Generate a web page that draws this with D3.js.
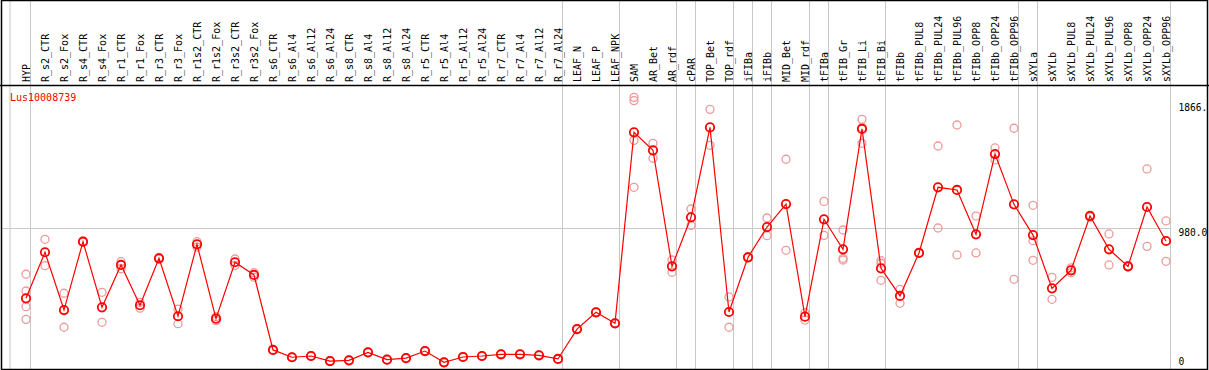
<!DOCTYPE html>
<meta charset="utf-8">
<style>
  body { margin: 0; background: #fff; }
  text { font-family: "DejaVu Sans Mono", monospace; font-size: 10px; }
</style>
<body>
<div id="chart"></div>
<script src="https://cdn.jsdelivr.net/npm/d3@7"></script>
<script>

// sample names (one column each)
var samples = ["HYP","R_s2_CTR","R_s2_Fox","R_s4_CTR","R_s4_Fox","R_r1_CTR","R_r1_Fox","R_r3_CTR","R_r3_Fox",
  "R_r1s2_CTR","R_r1s2_Fox","R_r3s2_CTR","R_r3s2_Fox","R_s6_CTR","R_s6_Al4","R_s6_Al12","R_s6_Al24",
  "R_s8_CTR","R_s8_Al4","R_s8_Al12","R_s8_Al24","R_r5_CTR","R_r5_Al4","R_r5_Al12","R_r5_Al24",
  "R_r7_CTR","R_r7_Al4","R_r7_Al12","R_r7_Al24","LEAF_N","LEAF_P","LEAF_NPK","SAM","AR_Bet","AR_rdf",
  "cPAR","TOP_Bet","TOP_rdf","iFIBa","iFIBb","MID_Bet","MID_rdf","tFIBa","tFIB_Gr","tFIB_Li","tFIB_Bi",
  "tFIBb","tFIBb_PUL8","tFIBb_PUL24","tFIBb_PUL96","tFIBb_OPP8","tFIBb_OPP24","tFIBb_OPP96",
  "sXYLa","sXYLb","sXYLb_PUL8","sXYLb_PUL24","sXYLb_PUL96","sXYLb_OPP8","sXYLb_OPP24","sXYLb_OPP96"]

// mean expression per sample
var means = [480,807,397,882,416,717,431,764,353,863,336,736,646,114,62,71,35,40,97,45,56,106,26,64,71,83,83,76,50,
  262,381,303,1658,1530,707,1055,1693,383,771,986,1149,350,1041,828,1682,693,497,802,1268,1249,934,1504,1147,
  929,551,679,1064,828,707,1128,887]

// replicate values per sample
var reps = [[651,532,421,331],[899,712],[516,275],[885,879],[523,310],[740,690],[452,410],[770,758],[404,300],
  [882,844],[350,322],[759,713],[662,630],[117,111],[65,59],[74,68],[38,32],[43,37],[100,94],[48,42],[59,53],
  [109,103],[29,23],[67,61],[74,68],[86,80],[86,80],[79,73],[53,47],[265,259],[384,378],[306,300],
  [1906,1883,1601,1268],[1580,1474],[752,665],[1114,998],[1821,1566],[490,275],[775,767],[1050,925],[1467,821],
  [378,326],[1168,927],[965,764,752],[1750,1693,1580],[747,729,608],[544,445],[805,799],[1561,979],[1710,788],
  [1064,802],[1547,1462],[1687,615],[1140,889,750],[629,473],[696,662],[1070,1058],[937,717],[712,702],
  [1398,849],[1029,743]]

// last sample of each group (separator drawn after it)
var groupEnds = ["HYP","R_r7_Al24","LEAF_NPK","AR_rdf","cPAR","TOP_rdf","iFIBa","iFIBb","MID_rdf","tFIBa",
  "tFIB_Bi","tFIBb_OPP96","sXYLa","sXYLb_OPP96"]

var yTicks = [{v: 1866, label: "1866."}, {v: 980, label: "980.0"}, {v: 0, label: "0"}]
var geneName = "Lus10008739"

var W = 1209, H = 370, headerH = 85

var svg = d3.select("#chart").append("svg")
  .attr("width", W).attr("height", H)

var x = d3.scalePoint().domain(samples).range([26, 1166])
var y = d3.scaleLinear().domain([0, 1866]).range([366, 103])
var rightEdge = x(samples[samples.length - 1]) + 4.5

// vertical group separators
var seps = [x(samples[0]) - 16].concat(groupEnds.map(function(s) { return x(s) + 4.5 }))
svg.append("g").selectAll("line").data(seps).enter().append("line")
  .attr("x1", function(d) { return d }).attr("x2", function(d) { return d })
  .attr("y1", 0).attr("y2", H)
  .attr("stroke", "#c8c8c8").attr("stroke-width", 1)

// horizontal reference line at 980
svg.append("line")
  .attr("x1", 1).attr("x2", rightEdge)
  .attr("y1", Math.round(y(980)) + 0.5).attr("y2", Math.round(y(980)) + 0.5)
  .attr("stroke", "#c8c8c8")

// frame and header divider
svg.append("rect").attr("x", 1.5).attr("y", 0.5).attr("width", W - 3).attr("height", H - 1)
  .attr("fill", "none").attr("stroke", "#000").attr("stroke-width", 1.5)
svg.append("line").attr("x1", 0).attr("x2", W).attr("y1", headerH + 0.5).attr("y2", headerH + 0.5)
  .attr("stroke", "#000").attr("stroke-width", 1.5)

// column labels
svg.append("g").selectAll("text").data(samples).enter().append("text")
  .attr("transform", function(d) { return "translate(" + (x(d) + 3.5) + "," + (headerH - 3) + ") rotate(-90)" })
  .attr("text-anchor", "start")
  .attr("fill", "#000")
  .text(function(d) { return d })

// gene name
svg.append("text").attr("x", 10).attr("y", 101).attr("fill", "#ff0000").text(geneName)

// right value labels
svg.append("g").selectAll("text").data(yTicks).enter().append("text")
  .attr("x", rightEdge + 8)
  .attr("y", function(d) { return d.v === 0 ? y(d.v) - 1 : y(d.v) + 8 })
  .attr("fill", "#000")
  .style("font-size", "9.6px")
  .text(function(d) { return d.label })

// replicate points
var repData = []
samples.forEach(function(s, i) {
  reps[i].forEach(function(v) { repData.push({s: s, v: v}) })
})
svg.append("g").selectAll("circle").data(repData).enter().append("circle")
  .attr("cx", function(d) { return x(d.s) })
  .attr("cy", function(d) { return y(d.v) })
  .attr("r", 4)
  .attr("fill", "none")
  .attr("stroke", "#ee9a9a")
  .attr("stroke-width", 1.3)

// mean line
var line = d3.line()
  .x(function(d, i) { return x(samples[i]) })
  .y(function(d) { return y(d) })
svg.append("path").datum(means)
  .attr("d", line)
  .attr("fill", "none")
  .attr("stroke", "#ff0000")
  .attr("stroke-width", 1.2)

// mean points
svg.append("g").selectAll("circle").data(means).enter().append("circle")
  .attr("cx", function(d, i) { return x(samples[i]) })
  .attr("cy", function(d) { return y(d) })
  .attr("r", 4.2)
  .attr("fill", "none")
  .attr("stroke", "#ff0000")
  .attr("stroke-width", 1.8)

</script>
</body>
